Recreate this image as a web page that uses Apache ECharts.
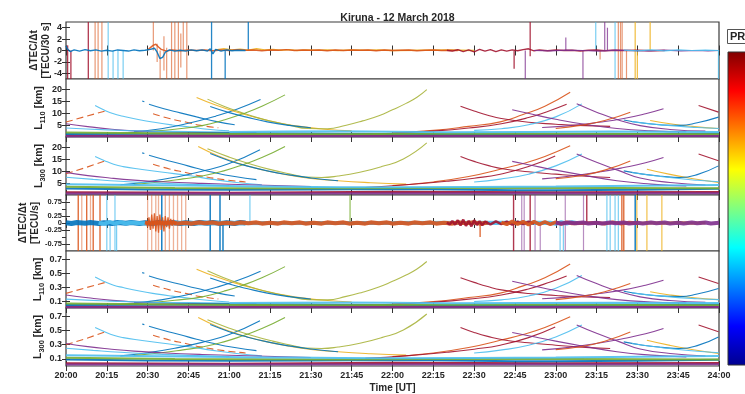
<!DOCTYPE html>
<html><head><meta charset="utf-8">
<script src="https://cdn.jsdelivr.net/npm/echarts@6/dist/echarts.min.js"></script>
<style>html,body{margin:0;padding:0;background:#fff}#c{width:745px;height:394px}</style>
</head><body><div id="c"></div>
<script>
// ---------- DATA ----------
const xTickLabels = ['20:00','20:15','20:30','20:45','21:00','21:15','21:30','21:45','22:00','22:15','22:30','22:45','23:00','23:15','23:30','23:45','24:00'];
const yTicksP1 = [-4,-2,0,2,4];
const yTicksL = [5,10,15,20];
const yTicksP4 = [-0.75,-0.5,-0.25,0,0.25,0.5,0.75];
const yTicksLs = [0.1,0.3,0.5,0.7];

// Panel 1: dTEC/dt [TECU/30 s] baseline traces [t(min after 20:00), value]
const p1NoiseBlue = [[0,0.8],[0.5,0.3],[1.5,-0.2],[3,0.1],[5,-0.1],[7,0.15],[9,-0.05],[11,0.1],[13,-0.1],[15,0.05],[17,-0.1],[19,0.1],[21,0],[23,-0.1],[25,0.1],[27,-0.05],[29,0.05],[31,0.2],[32.5,0.4],[33.5,-0.3],[34.5,-1.4],[35.5,-1.2],[36.5,-0.3],[38,0.1],[40,-0.1],[42,0.05],[44,-0.1],[46,0.1],[48,-0.05],[50,0.1],[52,-0.1],[53,0.3],[54,-0.6],[55,0.2],[57,-0.1],[59,0.1],[61,-0.05],[63,0.05],[66,0]];
const p1NoiseOrange = [[30,0.1],[31,0.5],[32,0.9],[33,1.1],[34,0.6],[35,0.2],[37,-0.1],[39,0.1],[42,-0.05],[45,0.1],[48,0],[51,0.1],[54,-0.05],[57,0.1],[60,0],[63,0.15],[66,0.05],[69,0.1],[72,-0.05],[75,0.1],[78,0.05],[81,0.15],[84,0],[87,0.1],[90,0.05],[93,0.1],[96,-0.05],[99,0.1],[102,0],[105,0.1],[108,0.05],[111,0.1],[114,-0.05],[117,0.1],[120,0],[123,0.05],[126,0.1],[129,-0.05],[132,0.05],[135,0.1],[138,0],[141,0.05],[144,0]];
const p1NoiseYellow = [[55,0.1],[58,0.3],[61,0.1],[64,0.25],[67,0.05],[70,0.3],[73,0.1],[76,0.2],[79,0.05],[82,0.15],[85,0],[88,0.1],[92,0.05],[96,0.1],[100,0],[105,0.1],[110,0.05],[115,0.1],[120,0],[130,0.05],[140,0.1],[150,0]];
const p1NoiseRed = [[140,0.05],[142,-0.1],[144,0.15],[146,-0.2],[148,0.1],[150,-0.25],[152,0.2],[154,-0.1],[156,0.15],[158,-0.2],[160,0.1],[162,-0.1],[164,0.1],[166,-0.05],[168,0.15],[170,0.3],[172,-0.05],[174,0.1],[177,-0.05],[180,0.1],[183,0],[186,0.05],[189,-0.1],[192,0.05],[195,0.1],[198,-0.05],[201,0.05],[205,0],[210,0.05],[215,-0.05],[220,0]];
const p1NoisePurple = [[172,0],[178,-0.05],[184,0.05],[190,0],[196,-0.1],[202,0.05],[208,0],[214,-0.05],[220,0.05],[226,-0.05],[232,0],[236,-0.05],[240,0]];
const p1NoiseLightBlue = [[205,0.05],[210,-0.05],[215,0.1],[220,-0.05],[225,0.1],[230,0],[235,0.05],[240,0]];
// Panel 1 spikes [t, from, to]
const p1SpikesDarkRed = [[0.6,-5,0.9],[1.8,-5,0],[8.2,-5,5],[164.7,-3.2,0],[170.6,-1,5]];
const p1SpikesOrange = [[10.7,-5,5],[11.8,-5,5],[13.2,-5,5],[32.1,0,5],[33.5,-2,1.2],[34.6,-5,0],[36,-3.5,2.5],[37,-5,0.5],[38.8,-5,5],[40,-5,5],[41.3,-5,5],[42.2,-3,3],[43.1,0,5],[44.4,-5,5],[196.3,-1.6,0],[203,-5,5],[203.8,-5,5],[204.4,-5,5],[206,-5,0]];
const p1SpikesLightBlue = [[15.5,-5,5],[17.3,-5,0],[19.1,-5,0],[21,-5,0],[194.7,0,5],[201.8,-5,5],[239.8,-5,0]];
const p1SpikesBlue = [[53.5,-5,5],[58.5,-5,0],[67,0,5]];
const p1SpikesPurple = [[168.8,-5,0],[183.7,0,2.3],[190,-5,0],[198,0,5],[199,0,4]];
const p1SpikesYellow = [[209.2,-5,5],[210,-5,-0.2],[214.7,0,5]];

// Panel 4: dTEC/dt [TECU/s]
const p4BandBlue = [[0,0.01],[2,-0.02],[4,0.015],[7,-0.01],[9,0.02],[12,-0.015],[14,0.01],[17,-0.02],[19,0.015],[22,-0.01],[24,0.02],[27,-0.015],[29,0.01],[32,-0.02],[34,0.015],[37,-0.01],[39,0.02],[42,-0.015],[44,0.01],[47,-0.02],[49,0.015],[52,-0.01],[54,0.02],[57,-0.015],[59,0.01],[62,-0.02],[64,0.015],[66,0]];
const p4BandLightBlue = [[12,0.01],[14,-0.03],[16,0.04],[18,-0.02],[20,0.03],[22,-0.02],[24,0.02],[27,-0.01],[178,0.01],[180,-0.03],[182,0.03],[184,-0.02],[186,0.03],[188,-0.01]];
const p4BandOrange = [[29,0.02],[31,-0.02],[34,0.02],[36,-0.01],[39,0.02],[41,-0.02],[44,0.01],[46,-0.02],[49,0.02],[51,-0.01],[54,0.02],[56,-0.02],[59,0.01],[62,-0.02],[64,0.02],[67,-0.01],[70,0.02],[72,-0.02],[75,0.01],[78,-0.02],[80,0.02],[83,-0.01],[86,0.02],[88,-0.02],[91,0.01],[94,-0.02],[96,0.02],[99,-0.01],[102,0.02],[104,-0.02],[107,0.01],[110,-0.02],[112,0.02],[115,-0.01],[118,0.02],[120,-0.02],[123,0.01],[126,-0.02],[128,0.02],[131,-0.01],[134,0.02],[136,-0.02],[139,0.01],[142,-0.02],[144,0.02],[147,-0.01],[150,0.02],[152,-0.02],[155,0.01]];
const p4Burst = [[29.5,0.05],[30,-0.15],[30.5,0.2],[31,-0.25],[31.5,0.3],[32,-0.2],[32.5,0.35],[33,-0.3],[33.5,0.25],[34,-0.35],[34.5,0.3],[35,-0.25],[35.5,0.2],[36,-0.3],[36.5,0.25],[37,-0.15],[37.5,0.2],[38,-0.2],[38.5,0.15],[39,-0.1],[39.5,0.12],[40,-0.08],[40.5,0.05]];
const p4BandDarkRed = [[140,0.02],[141,-0.05],[142,0.07],[143,-0.06],[144,0.1],[145,-0.09],[146,0.12],[147,-0.1],[148,0.08],[149,-0.12],[150,0.1],[151,-0.07],[152,0.06],[153,-0.08],[154,0.05],[156,-0.05],[158,0.06],[160,-0.04],[162,0.05],[164,-0.06],[166,0.05],[168,-0.04],[170,0.05],[172,-0.03]];
const p4BandRedOrange = [[160,0.02],[162,-0.05],[164,0.06],[166,-0.04],[168,0.05],[170,-0.06],[172,0.05],[174,-0.05],[176,0.04],[178,-0.05],[180,0.03],[182,-0.04],[184,0.03],[186,-0.02],[195,0.01],[198,-0.03],[201,0.03],[204,-0.03],[207,0.02],[210,-0.01]];
const p4BandPurple = [[180,0.01],[182,-0.02],[185,0.02],[187,-0.01],[190,0.02],[192,-0.02],[195,0.01],[197,-0.02],[200,0.02],[202,-0.01],[205,0.02],[207,-0.02],[210,0.01],[212,-0.02],[215,0.02],[217,-0.01],[220,0.02],[222,-0.02],[225,0.01],[227,-0.02],[230,0.02],[232,-0.01],[235,0.02],[237,-0.02],[240,0.01]];
const p4BandYellow = [[205,0.01],[210,-0.02],[215,0.01],[220,-0.01],[225,0.02],[230,-0.01],[235,0.01]];
const p4SpikesOrange = [[4.5,-1,1],[7.6,-1,1],[10,-1,1],[12.5,-1,1],[152.2,-0.5,0],[204.3,-1,1],[205,-1,1]];
const p4SpikesOrangeFaint = [[5.8,-1,1],[9,-1,1],[30,-1,1],[31.5,-1,1],[33,-1,1],[34,-1,1],[36.5,-1,1],[38,-1,1],[39.5,-1,1],[41,-1,1],[42.5,-1,1],[44,-1,1]];
const p4SpikesLightBlue = [[15,-1,1],[16.2,-1,0],[18,-1,1],[18.6,-1,0],[67.6,0,1],[181.6,-1,0],[182.8,-1,0],[198.8,-1,1],[200,-1,1],[201.8,-1,1],[203,-1,1]];
const p4SpikesBlue = [[35.2,-1,1],[53,-1,1],[56.6,-1,1],[57.7,-1,0],[209.2,-1,1]];
const p4SpikesGreen = [[104.4,0,1]];
const p4SpikesDarkRed = [[164.5,-1,1],[170.6,-1,1],[191.4,0,1]];
const p4SpikesPurple = [[167.5,-1,1],[168.4,-1,1],[172.4,-1,1],[174.3,-1,0],[183.5,-1,1],[190.2,-1,1]];
const p4SpikesYellow = [[209.8,-1,1],[213.5,-1,1],[219,-1,1]];

// Satellite arcs: L110 [km] (panel 2)
const arcsL110 = [
 [[0,6.3],[7,8.6],[14.5,11]],
 [[10.7,13.3],[14,11.4],[17.5,9.8],[21,8.8],[27,7.3],[33,6.1],[39,5.1],[45.6,4.2],[52,3.3],[60,2.6]],
 [[28,15.2],[28.8,14.9]],
 [[30.5,13.8],[36,11.9],[42,10.2],[48,8.5],[55.4,6.5],[62,5.2]],
 [[32,9.8],[38,7.8],[44,6.3],[49.5,4.9],[56,3.9]],
 [[25,2.2],[35,3.5],[45,5.8],[55,8.8],[63,11.8],[71.5,15.8]],
 [[48,16.7],[55,13.5],[62,10.8],[70,8.2],[78,6.0],[86,4.5],[95,3.3],[105,2.6]],
 [[52,16],[58,13],[64,10.5],[70,8.3],[76,6.5],[82,5.0],[89,3.6],[96,3.5],[103,5.0],[109,6.8],[115,9.0],[120,11.5],[125,14.2],[129,16.8],[132.6,20]],
 [[20,1.5],[30,2.3],[40,3.3],[50.5,4.9],[58,7.2],[65,9.8],[72,13],[80.5,17.8]],
 [[53,12.9],[60,10.3],[66.4,8.4],[74,6.4],[82,4.9],[90,3.9]],
 [[120,1.8],[135,2.8],[148,4.5],[159.6,6.4],[168,9.5],[176,13],[185.3,18.9]],
 [[105,1.1],[120,1.6],[135,2.5],[148,3.8],[160,5.6],[170,8.2],[178,11.2],[184,13.8]],
 [[145,13],[150,11],[155,9.2],[160,7.8],[170,6.2],[180,5.4],[188,4.9],[200,4.5]],
 [[150,2.8],[160,3.5],[170,5.2],[180,8.5],[189.6,14]],
 [[164,11.5],[170.6,9.8],[180,7.5],[190,5.5],[202.5,3.6],[215,2.6],[228,2.2]],
 [[187.7,14],[195,10.5],[203,7.2],[211,4.8],[222,3.2],[235,2.5]],
 [[175,4.0],[186.5,4.9],[196,6.2],[205,7.8],[213,9.8],[219.6,11.9]],
 [[180,3.6],[189,4.9],[198,7.0],[207.4,10.5]],
 [[214.7,7.0],[222,5.6],[230,4.5],[239.8,3.6]],
 [[205,7.2],[212,5.9],[219,5.1],[225.7,4.9],[232,6.0],[239.8,8.4]],
 [[208,6.5],[220,5.0],[232,4.0],[240,3.6]],
 [[232.5,13.3],[239.8,10.5]],
 [[0,5.6],[8,4.4],[16,3.4],[25,2.6],[35,2.2],[50,1.9],[70,1.8]],
 [[0,3.8],[15,3.0],[30,2.5],[45,2.3],[60,2.1]],
 [[0,0.6],[60,0.7],[120,0.9],[180,0.8],[240,0.7]],
 [[0,1.3],[60,1.6],[120,1.3],[180,1.1],[240,1.5]],
 [[0,1.9],[40,1.5],[100,1.2],[160,1.5],[240,1.2]],
 [[0,0.3],[240,0.4]],
 [[60,2.1],[100,2.4],[140,2.0],[200,2.3],[240,2.1]]
];
// L300 [km] (panel 3)
const arcsL300 = [
 [[0,9],[7,11.5],[14.5,14.5]],
 [[10.7,16.3],[14,14.6],[17.5,13],[21,12],[28,10.8],[35,9.7],[45.6,8.1],[54,6.6],[62.7,5.3],[72,4.3]],
 [[28,17.8],[28.8,17.5]],
 [[30.5,16.8],[36,15],[42,13.2],[48,11.3],[54,9.6],[62,7.8],[70,6.5]],
 [[32,13],[38,11],[44,9.5],[49.3,8.1],[58,6.5],[66,5.5]],
 [[20,4.3],[30,5.6],[40,7.5],[50,10],[60,13.3],[71.3,19.1]],
 [[48.6,20.5],[56,16.5],[64,13.2],[72,10.7],[80,8.8],[90,7.0],[100,6.0],[112,5.2],[125,4.6]],
 [[52,19.5],[60,16],[68,13],[76,10.5],[82,9],[88,7.6],[94,7.4],[100,8.0],[108,9.6],[116,12.0],[124,15.2],[132.6,22]],
 [[25,4.5],[35,5.6],[43,6.8],[50.5,8.1],[58,10.2],[65,12.8],[72,15.8],[80.5,20.5]],
 [[53,17.5],[60,14.5],[66.4,12.3],[74,10.2],[82,8.5],[90,7.2],[100,6]],
 [[120,4],[135,5.5],[148,7.8],[159.6,10.9],[168,13.3],[176,16.3],[185.3,20.8]],
 [[110,3.2],[125,4.3],[140,5.8],[150,7.1],[159.6,8.8],[170,12],[179.8,16.5]],
 [[145,16.3],[150,14.2],[155,12.5],[161,11],[170,9.8],[180,8.8],[188,8.1],[200,7.4]],
 [[150,5.5],[159.6,6.7],[170,8.8],[180,12.3],[189.6,17.3]],
 [[164,14.2],[170,12.8],[180,10.5],[190,8.4],[202.5,6.0],[215,4.6],[228,3.8]],
 [[187.7,17.3],[195,13.8],[203,10.4],[211,7.2],[222,5.3],[235,4.2]],
 [[175,6.8],[186.5,8.1],[196,9.7],[205,11.6],[213,13.6],[219.6,15.8]],
 [[180,6.9],[189,8.1],[198,10.5],[207.4,14.4]],
 [[213.5,10.9],[222,8.7],[230,7.0],[239.8,5.3]],
 [[205,10.2],[212,8.8],[219,7.9],[225.7,7.4],[232,8.6],[239.8,12.3]],
 [[208,9.5],[220,7.6],[232,6.2],[240,5.6]],
 [[232.5,17.3],[239.8,14.5]],
 [[0,9.5],[8,8.2],[16,7.2],[25,6.3],[35,5.6],[50,4.9],[70,4.2],[90,3.6]],
 [[0,7.5],[10,6.6],[20,5.8],[30,5.2],[45,4.5],[60,4.0]],
 [[0,1.2],[60,1.0],[120,1.4],[180,1.2],[240,1.3]],
 [[0,2.7],[60,2.2],[120,2.5],[180,2.0],[240,2.6]],
 [[0,3.5],[40,3.0],[100,2.8],[160,3.1],[240,2.8]],
 [[0,0.6],[240,0.7]],
 [[0,4.5],[60,3.8],[120,3.3],[180,3.6],[240,4.2]]
];
// L110 (panel 5)
const arcsP5 = [
 [[0,0.21],[7,0.287],[14.5,0.367]],
 [[10.7,0.443],[14,0.38],[17.5,0.327],[21,0.293],[27,0.243],[33,0.203],[39,0.17],[45.6,0.14],[52,0.11],[60,0.087]],
 [[28,0.507],[28.8,0.497]],
 [[30.5,0.46],[36,0.397],[42,0.34],[48,0.283],[55.4,0.217],[62,0.173]],
 [[32,0.327],[38,0.26],[44,0.21],[49.5,0.163],[56,0.13]],
 [[25,0.073],[35,0.117],[45,0.193],[55,0.293],[63,0.393],[71.5,0.527]],
 [[48,0.557],[55,0.45],[62,0.36],[70,0.273],[78,0.2],[86,0.15],[95,0.11],[105,0.087]],
 [[52,0.533],[58,0.433],[64,0.35],[70,0.277],[76,0.217],[82,0.167],[89,0.12],[96,0.117],[103,0.167],[109,0.227],[115,0.3],[120,0.383],[125,0.473],[129,0.56],[132.6,0.667]],
 [[20,0.05],[30,0.077],[40,0.11],[50.5,0.163],[58,0.24],[65,0.327],[72,0.433],[80.5,0.593]],
 [[53,0.43],[60,0.343],[66.4,0.28],[74,0.213],[82,0.163],[90,0.13]],
 [[120,0.06],[135,0.093],[148,0.15],[159.6,0.213],[168,0.317],[176,0.433],[185.3,0.63]],
 [[105,0.037],[120,0.053],[135,0.083],[148,0.127],[160,0.187],[170,0.273],[178,0.373],[184,0.46]],
 [[145,0.433],[150,0.367],[155,0.307],[160,0.26],[170,0.207],[180,0.18],[188,0.163],[200,0.15]],
 [[150,0.093],[160,0.117],[170,0.173],[180,0.283],[189.6,0.467]],
 [[164,0.383],[170.6,0.327],[180,0.25],[190,0.183],[202.5,0.12],[215,0.087],[228,0.073]],
 [[187.7,0.467],[195,0.35],[203,0.24],[211,0.16],[222,0.107],[235,0.083]],
 [[175,0.133],[186.5,0.163],[196,0.207],[205,0.26],[213,0.327],[219.6,0.397]],
 [[180,0.12],[189,0.163],[198,0.233],[207.4,0.35]],
 [[214.7,0.233],[222,0.187],[230,0.15],[239.8,0.12]],
 [[205,0.24],[212,0.197],[219,0.17],[225.7,0.163],[232,0.2],[239.8,0.28]],
 [[208,0.217],[220,0.167],[232,0.133],[240,0.12]],
 [[232.5,0.443],[239.8,0.35]],
 [[0,0.187],[8,0.147],[16,0.113],[25,0.087],[35,0.073],[50,0.063],[70,0.06]],
 [[0,0.127],[15,0.1],[30,0.083],[45,0.077],[60,0.07]],
 [[0,0.02],[60,0.023],[120,0.03],[180,0.027],[240,0.023]],
 [[0,0.043],[60,0.053],[120,0.043],[180,0.037],[240,0.05]],
 [[0,0.063],[40,0.05],[100,0.04],[160,0.05],[240,0.04]],
 [[0,0.01],[240,0.013]],
 [[60,0.07],[100,0.08],[140,0.067],[200,0.077],[240,0.07]]
];
// L300 (panel 6)
const arcsP6 = [
 [[0,0.3],[7,0.383],[14.5,0.483]],
 [[10.7,0.543],[14,0.487],[17.5,0.433],[21,0.4],[28,0.36],[35,0.323],[45.6,0.27],[54,0.22],[62.7,0.177],[72,0.143]],
 [[28,0.593],[28.8,0.583]],
 [[30.5,0.56],[36,0.5],[42,0.44],[48,0.377],[54,0.32],[62,0.26],[70,0.217]],
 [[32,0.433],[38,0.367],[44,0.317],[49.3,0.27],[58,0.217],[66,0.183]],
 [[20,0.143],[30,0.187],[40,0.25],[50,0.333],[60,0.443],[71.3,0.637]],
 [[48.6,0.683],[56,0.55],[64,0.44],[72,0.357],[80,0.293],[90,0.233],[100,0.2],[112,0.173],[125,0.153]],
 [[52,0.65],[60,0.533],[68,0.433],[76,0.35],[82,0.3],[88,0.253],[94,0.247],[100,0.267],[108,0.32],[116,0.4],[124,0.507],[132.6,0.733]],
 [[25,0.15],[35,0.187],[43,0.227],[50.5,0.27],[58,0.34],[65,0.427],[72,0.527],[80.5,0.683]],
 [[53,0.583],[60,0.483],[66.4,0.41],[74,0.34],[82,0.283],[90,0.24],[100,0.2]],
 [[120,0.133],[135,0.183],[148,0.26],[159.6,0.363],[168,0.443],[176,0.543],[185.3,0.693]],
 [[110,0.107],[125,0.143],[140,0.193],[150,0.237],[159.6,0.293],[170,0.4],[179.8,0.55]],
 [[145,0.543],[150,0.473],[155,0.417],[161,0.367],[170,0.327],[180,0.293],[188,0.27],[200,0.247]],
 [[150,0.183],[159.6,0.223],[170,0.293],[180,0.41],[189.6,0.577]],
 [[164,0.473],[170,0.427],[180,0.35],[190,0.28],[202.5,0.2],[215,0.153],[228,0.127]],
 [[187.7,0.577],[195,0.46],[203,0.347],[211,0.24],[222,0.177],[235,0.14]],
 [[175,0.227],[186.5,0.27],[196,0.323],[205,0.387],[213,0.453],[219.6,0.527]],
 [[180,0.23],[189,0.27],[198,0.35],[207.4,0.48]],
 [[213.5,0.363],[222,0.29],[230,0.233],[239.8,0.177]],
 [[205,0.34],[212,0.293],[219,0.263],[225.7,0.247],[232,0.287],[239.8,0.41]],
 [[208,0.317],[220,0.253],[232,0.207],[240,0.187]],
 [[232.5,0.577],[239.8,0.483]],
 [[0,0.317],[8,0.273],[16,0.24],[25,0.21],[35,0.187],[50,0.163],[70,0.14],[90,0.12]],
 [[0,0.25],[10,0.22],[20,0.193],[30,0.173],[45,0.15],[60,0.133]],
 [[0,0.04],[60,0.033],[120,0.047],[180,0.04],[240,0.043]],
 [[0,0.09],[60,0.073],[120,0.083],[180,0.067],[240,0.087]],
 [[0,0.117],[40,0.1],[100,0.093],[160,0.103],[240,0.093]],
 [[0,0.02],[240,0.023]],
 [[0,0.15],[60,0.127],[120,0.11],[180,0.12],[240,0.14]]
];

// ---------- STYLE ----------
const C = {blue:'#0072BD', orange:'#D95319', yellow:'#EDB120', purple:'#7E2F8E', green:'#77AC30', lblue:'#4DBEEE', dred:'#A2142F', olive:'#A9B43C'};
const arcColors = ['orange','lblue','blue','blue','orange','blue','yellow','olive','green','blue','orange','dred','dred','lblue','purple','purple','purple','orange','yellow','blue','lblue','dred','purple','lblue','dred','blue','green','purple','lblue'];
const arcDashed = [0,4];
const arcBand = [24,25,26,27,28];
const FONT = 'Liberation Sans, Arial, Helvetica, sans-serif';
const TXT = '#262626';

const panels = [
 {top:22, h:57, min:-5, max:5, ticks:yTicksP1, name:'ΔTEC/Δt\n[TECU/30 s]', gap:14, fs:9},
 {top:79, h:58, min:0, max:24.5, ticks:yTicksL, name:'{l|L}{s|110}{l| [km]}', gap:21, fs:9},
 {top:137, h:58, min:0, max:24.5, ticks:yTicksL, name:'{l|L}{s|300}{l| [km]}', gap:21, fs:9},
 {top:195, h:56, min:-1, max:1, ticks:yTicksP4, name:'ΔTEC/Δt\n[TECU/s]', gap:25, fs:7.5},
 {top:251, h:57, min:0, max:0.817, ticks:yTicksLs, name:'{l|L}{s|110}{l| [km]}', gap:22, fs:9},
 {top:308, h:58, min:0, max:0.817, ticks:yTicksLs, name:'{l|L}{s|300}{l| [km]}', gap:22, fs:9}
];

const grid = [], xAxis = [], yAxis = [], series = [];
panels.forEach((p, i) => {
  grid.push({left:66, width:653, top:p.top, height:p.h, show:true, borderColor:'#3a3a3a', borderWidth:1.2, backgroundColor:'#fff'});
  ['bottom','top'].forEach((pos, k) => {
    xAxis.push({gridIndex:i, type:'value', min:0, max:240, interval:15, position:pos,
      axisLine:{show:false}, splitLine:{show:false},
      axisTick:{show:true, inside:true, length:5, lineStyle:{color:'#333', width:1}},
      axisLabel:{show:(i===5 && k===0), margin:5, fontSize:9, fontWeight:'bold', color:TXT, fontFamily:FONT,
        formatter:v => xTickLabels[Math.round(v/15)]},
      name:(i===5 && k===0) ? 'Time [UT]' : '', nameLocation:'middle', nameGap:17, nameMoveOverlap:false,
      nameTextStyle:{fontSize:10, fontWeight:'bold', color:TXT, fontFamily:FONT}});
  });
  ['left','right'].forEach((pos, k) => {
    yAxis.push({gridIndex:i, type:'value', min:p.min, max:p.max, position:pos,
      axisLine:{show:false}, splitLine:{show:false},
      axisTick:{show:true, inside:true, length:4, customValues:p.ticks, lineStyle:{color:'#333'}},
      axisLabel:{show:k===0, customValues:p.ticks, showMinLabel:true, showMaxLabel:true, hideOverlap:false,
        margin:4, fontSize:p.fs, fontWeight:'bold', color:TXT, fontFamily:FONT},
      name:k===0 ? p.name : '', nameLocation:'middle', nameGap:p.gap, nameRotate:90, nameMoveOverlap:false,
      nameTextStyle:{fontSize:10, fontWeight:'bold', color:TXT, fontFamily:FONT, lineHeight:12,
        rich:{l:{fontSize:10.5, fontWeight:'bold', color:TXT, fontFamily:FONT},
              s:{fontSize:7.5, fontWeight:'bold', color:TXT, fontFamily:FONT, padding:[7,0,0,0]}}}});
  });
});

function lineS(gi, data, color, width, opts) {
  opts = opts || {};
  return {type:'line', xAxisIndex:gi*2, yAxisIndex:gi*2, data, symbol:'none', showSymbol:false,
    smooth:opts.smooth || false, silent:true, clip:true, z:opts.z || 2,
    lineStyle:{color, width, type:opts.dash ? [7,4] : 'solid', opacity:opts.op || 0.9}};
}
function spikeS(gi, data, color, width, op) {
  return {type:'custom', xAxisIndex:gi*2, yAxisIndex:gi*2, data, silent:true, clip:true, z:1,
    encode:{x:0, y:[1,2]},
    renderItem:(params, api) => {
      const a = api.coord([api.value(0), api.value(1)]);
      const b = api.coord([api.value(0), api.value(2)]);
      return {type:'line', shape:{x1:a[0], y1:a[1], x2:b[0], y2:b[1]},
        style:{stroke:color, lineWidth:width, opacity:op}};
    }};
}

// Panel 1
series.push(spikeS(0, p1SpikesDarkRed, C.dred, 1.3, 0.85));
series.push(spikeS(0, p1SpikesOrange, C.orange, 1.2, 0.6));
series.push(spikeS(0, p1SpikesLightBlue, C.lblue, 1.2, 0.75));
series.push(spikeS(0, p1SpikesBlue, C.blue, 1.3, 0.85));
series.push(spikeS(0, p1SpikesPurple, C.purple, 1.2, 0.75));
series.push(spikeS(0, p1SpikesYellow, C.yellow, 1.3, 0.8));
series.push(lineS(0, p1NoiseYellow, C.yellow, 1.4));
series.push(lineS(0, p1NoiseOrange, C.orange, 1.4));
series.push(lineS(0, p1NoiseBlue, C.blue, 1.4));
series.push(lineS(0, p1NoiseRed, C.dred, 1.4));
series.push(lineS(0, p1NoisePurple, C.purple, 1.2));
series.push(lineS(0, p1NoiseLightBlue, C.lblue, 1.2));

// Panel 4
series.push(spikeS(3, p4SpikesOrangeFaint, C.orange, 1.3, 0.45));
series.push(spikeS(3, p4SpikesOrange, C.orange, 1.4, 0.85));
series.push(spikeS(3, p4SpikesLightBlue, C.lblue, 1.2, 0.75));
series.push(spikeS(3, p4SpikesBlue, C.blue, 1.5, 0.9));
series.push(spikeS(3, p4SpikesGreen, C.green, 1.2, 0.8));
series.push(spikeS(3, p4SpikesDarkRed, C.dred, 1.4, 0.85));
series.push(spikeS(3, p4SpikesPurple, C.purple, 1.2, 0.55));
series.push(spikeS(3, p4SpikesYellow, C.yellow, 1.3, 0.75));
series.push(lineS(3, p4BandBlue, C.blue, 5));
series.push(lineS(3, p4BandLightBlue, C.lblue, 4));
series.push(lineS(3, p4BandOrange, C.orange, 4.2));
series.push(lineS(3, p4Burst, C.orange, 1.3));
series.push(lineS(3, p4BandYellow, C.yellow, 3));
series.push(lineS(3, p4BandDarkRed, C.dred, 2.5));
series.push(lineS(3, p4BandRedOrange, C.orange, 3.5));
series.push(lineS(3, p4BandPurple, C.purple, 4));

// Arc panels
[[1, arcsL110], [2, arcsL300], [4, arcsP5], [5, arcsP6]].forEach(([gi, arcs]) => {
  arcs.forEach((d, j) => {
    const band = arcBand.indexOf(j) >= 0;
    series.push(lineS(gi, d, C[arcColors[j]], band ? 2 : 1.1,
      {smooth:true, dash:arcDashed.indexOf(j) >= 0, op:0.9}));
  });
});

const chart = echarts.init(document.getElementById('c'));
chart.setOption({
  animation:false, backgroundColor:'#fff',
  title:{text:'Kiruna - 12 March 2018', left:392.5, top:8, textAlign:'center',
    textStyle:{fontSize:10.5, fontWeight:'bold', color:TXT, fontFamily:FONT}},
  grid, xAxis, yAxis, series,
  graphic:[
    {type:'rect', shape:{x:727.5, y:29.5, width:40, height:14}, style:{fill:'#fff', stroke:'#555', lineWidth:1}},
    {type:'text', x:730, y:31, style:{text:'PRN', font:'bold 11px ' + FONT, fill:TXT}},
    {type:'rect', shape:{x:728, y:52, width:40, height:313},
      style:{stroke:'#333', lineWidth:1, fill:new echarts.graphic.LinearGradient(0,0,0,1,[
        {offset:0, color:'#800000'},{offset:0.125, color:'#ff0000'},{offset:0.375, color:'#ffff00'},
        {offset:0.5, color:'#80ff80'},{offset:0.625, color:'#00ffff'},{offset:0.875, color:'#0000ff'},
        {offset:1, color:'#00008f'}])}}
  ]
});
</script></body></html>
